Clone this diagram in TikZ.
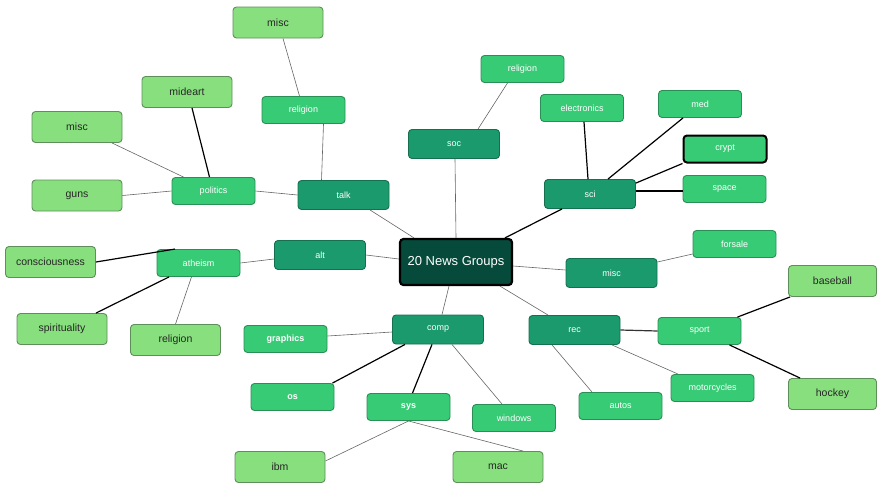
\documentclass[tikz,border=0pt]{standalone}
\usepackage{fontspec}
\setmainfont{Liberation Sans}
\definecolor{rootfill}{HTML}{064A3C}
\definecolor{lvaf}{HTML}{1B9A6E}
\definecolor{lvad}{HTML}{14704F}
\definecolor{lvbf}{HTML}{38CB76}
\definecolor{lvbd}{HTML}{2A8F55}
\definecolor{lvcf}{HTML}{88DF7E}
\definecolor{lvcd}{HTML}{5E8F5A}
\definecolor{thinline}{HTML}{666666}
\tikzset{
  box/.style={rectangle, rounded corners=3.5pt, inner sep=0pt, font=\fontsize{9}{10}\selectfont},
  rootbox/.style={box, fill=rootfill, draw=black, line width=2.2pt, text=white, minimum width=112pt, minimum height=46pt, font=\fontsize{13}{15}\selectfont},
  lva/.style={box, fill=lvaf, draw=lvad, line width=0.9pt, text=white, minimum width=91pt, minimum height=29pt},
  lvb/.style={box, fill=lvbf, draw=lvbd, line width=0.9pt, text=white, minimum width=83pt, minimum height=27pt},
  lvc/.style={box, fill=lvcf, draw=lvcd, line width=0.9pt, text=black!85, minimum width=90pt, minimum height=31pt, font=\fontsize{10.5}{12}\selectfont},
  thin/.style={draw=thinline, line width=0.6pt},
  heavy/.style={draw=black, line width=1.2pt},
}
\begin{document}
\begin{tikzpicture}[x=1pt,y=-1pt]
\useasboundingbox (0,0) rectangle (877,485);
% root
\node[rootbox] (root) at (456,262) {20 News Groups};
% level 1
\node[lva] (talk) at (343.5,195) {talk};
\node[lva] (soc) at (454,144) {soc};
\node[lva] (sci) at (590,194) {sci};
\node[lva] (alt) at (320,255) {alt};
\node[lva] (miscA) at (611.5,273) {misc};
\node[lva] (comp) at (438,329.5) {comp};
\node[lva] (rec) at (574.5,330) {rec};
% level 2
\node[lvb] (politics) at (213.5,191) {politics};
\node[lvb] (relT) at (303.5,110) {religion};
\node[lvb] (relS) at (522.5,69) {religion};
\node[lvb] (electronics) at (582,108) {electronics};
\node[lvb] (med) at (700,104) {med};
\node[lvb, draw=black, line width=2pt] (crypt) at (725,149) {crypt};
\node[lvb] (space) at (724.5,189) {space};
\node[lvb] (forsale) at (734.5,244) {forsale};
\node[lvb] (atheism) at (198.5,263) {atheism};
\node[lvb, font=\fontsize{9}{10}\selectfont\bfseries] (graphics) at (285.5,339) {graphics};
\node[lvb, font=\fontsize{9}{10}\selectfont\bfseries] (os) at (292.5,397) {os};
\node[lvb, font=\fontsize{9}{10}\selectfont\bfseries] (sys) at (408.5,407) {sys};
\node[lvb] (windows) at (514,418) {windows};
\node[lvb] (sport) at (699.5,331) {sport};
\node[lvb] (motorcycles) at (712.5,388) {motorcycles};
\node[lvb] (autos) at (620.5,406) {autos};
% level 3
\node[lvc] (miscT) at (278,22.5) {misc};
\node[lvc] (mideart) at (187,92) {mideart};
\node[lvc] (miscL) at (77,127) {misc};
\node[lvc] (guns) at (77,195.5) {guns};
\node[lvc] (consc) at (50.5,262) {consciousness};
\node[lvc] (spirit) at (62,329) {spirituality};
\node[lvc] (relA) at (175.5,340) {religion};
\node[lvc] (ibm) at (280,467) {ibm};
\node[lvc] (mac) at (498,467) {mac};
\node[lvc, minimum width=88pt] (baseball) at (832.5,281) {baseball};
\node[lvc, minimum width=88pt] (hockey) at (832.5,394) {hockey};
% connectors
\draw[thin] ([xshift=-42pt]root.north) -- ([xshift=26.5pt]talk.south);
\draw[thin] (root.north) -- ([xshift=1pt]soc.south);
\draw[heavy] ([xshift=49pt]root.north) -- ([xshift=-28pt]sci.south);
\draw[thin] ([yshift=3pt]root.west) -- (alt.east);
\draw[thin] ([yshift=-4pt]root.east) -- ([yshift=3pt]miscA.west);
\draw[thin] ([xshift=-7pt]root.south) -- ([xshift=4pt]comp.north);
\draw[thin] ([xshift=44pt]root.south) -- ([xshift=-26.5pt]rec.north);
\draw[thin] (talk.west) -- (politics.east);
\draw[thin] ([xshift=-22pt]talk.north) -- ([xshift=20pt]relT.south);
\draw[thin] ([xshift=-4pt]relT.north) -- ([xshift=5pt]miscT.south);
\draw[heavy] ([xshift=-4pt]politics.north) -- ([xshift=5pt]mideart.south);
\draw[thin] ([xshift=-30pt]politics.north) -- ([xshift=35pt]miscL.south);
\draw[thin] (politics.west) -- (guns.east);
\draw[thin] ([xshift=-15pt]relS.south) -- ([xshift=24pt]soc.north);
\draw[heavy] ([xshift=-2pt]sci.north) -- ([xshift=2pt]electronics.south);
\draw[heavy] ([xshift=18pt]sci.north) -- ([xshift=-17pt]med.south);
\draw[heavy] ([yshift=-4pt]sci.north east) -- (crypt.south west);
\draw[heavy] ([yshift=3pt]sci.east) -- ([yshift=-2pt]space.west);
\draw[thin] ([yshift=11pt]miscA.east) -- ([yshift=-10pt]forsale.west);
\draw[thin] ([yshift=-4pt]alt.west) -- (atheism.east);
\draw[heavy] (consc.east) -- ([xshift=-23.5pt]atheism.north);
\draw[heavy] ([xshift=-29.5pt]atheism.south) -- ([xshift=34pt]spirit.north);
\draw[thin] ([xshift=-7pt]atheism.south) -- (relA.north);
\draw[thin] ([yshift=-2.5pt]comp.west) -- ([yshift=3pt]graphics.east);
\draw[heavy] ([xshift=-33pt]comp.south) -- ([xshift=40pt]os.north);
\draw[heavy] ([xshift=-6pt]comp.south) -- ([xshift=4pt]sys.north);
\draw[thin] ([xshift=14pt]comp.south) -- ([xshift=-12pt]windows.north);
\draw[thin] (sys.south) -- ([yshift=6pt]ibm.east);
\draw[thin] (sys.south) -- ([xshift=25pt]mac.north);
\draw[heavy, draw=black!80] (rec.east) -- (sport.west);
\draw[thin] ([xshift=-22.5pt]rec.south) -- ([xshift=-28.5pt]autos.north);
\draw[thin] ([xshift=37.5pt]rec.south) -- ([xshift=-34.5pt]motorcycles.north);
\draw[heavy] ([xshift=38pt]sport.north) -- ([xshift=2pt]baseball.south west);
\draw[heavy] ([xshift=30pt]sport.south) -- ([xshift=12pt]hockey.north west);
\end{tikzpicture}
\end{document}
